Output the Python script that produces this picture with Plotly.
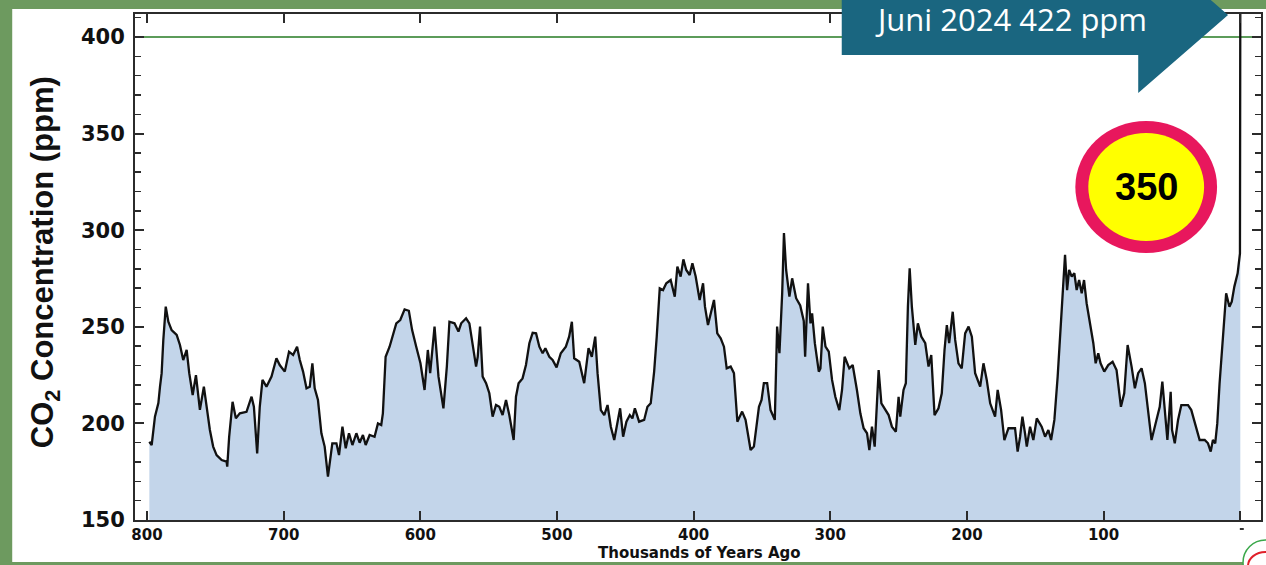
import plotly.graph_objects as go

# ---------------- data (thousands of years ago, ppm) ----------------
ages_kya = [
    798.3, 796.6, 794.2, 791.7, 790.5, 789.3, 788.1, 786.3, 784.4, 782.0, 778.3, 775.9, 773.5, 771.0,
    769.1, 766.6, 764.2, 761.3, 758.4, 756.4, 754.0, 751.6, 749.1, 745.4, 741.8, 741.3, 739.9, 737.4,
    735.0, 732.1, 727.2, 723.5, 721.8, 719.4, 717.5, 715.5, 712.6, 708.9, 705.3, 702.9, 699.2, 696.1,
    693.1, 690.2, 688.2, 685.8, 683.3, 680.9, 679.0, 677.3, 674.9, 672.4, 670.0, 667.6, 664.4, 661.4,
    659.5, 657.0, 654.6, 652.2, 649.7, 646.8, 644.4, 642.0, 640.0, 637.1, 633.5, 631.0, 628.6, 627.4,
    625.4, 622.5, 617.6, 614.7, 611.5, 608.4, 606.0, 603.0, 599.9, 596.9, 594.5, 592.8, 589.6, 586.7,
    583.1, 580.6, 578.7, 575.0, 572.1, 570.1, 566.5, 564.1, 561.7, 559.2, 558.0, 556.3, 554.4, 551.9,
    549.5, 547.1, 544.6, 542.2, 539.8, 537.3, 534.9, 531.7, 530.0, 528.1, 525.2, 522.7, 520.2, 517.8,
    515.3, 512.9, 510.5, 508.5, 505.6, 503.2, 500.3, 497.2, 493.5, 491.1, 489.1, 487.4, 483.7, 480.1,
    476.9, 474.5, 472.0, 470.3, 467.9, 465.4, 463.0, 460.6, 458.1, 455.7, 453.8, 451.6, 449.2, 446.7,
    444.8, 443.0, 439.9, 436.2, 433.8, 431.4, 429.7, 428.9, 427.0, 424.8, 422.4, 420.0, 416.8, 413.8,
    411.9, 409.5, 407.5, 405.4, 402.9, 400.9, 398.5, 395.6, 393.1, 391.7, 389.5, 387.1, 385.1, 382.7,
    380.2, 377.8, 375.8, 372.9, 370.5, 368.0, 364.5, 362.0, 358.3, 355.9, 352.2, 350.3, 348.6, 346.2,
    343.7, 340.6, 338.9, 337.2, 335.2, 333.9, 332.3, 329.9, 327.9, 325.0, 322.0, 319.4, 318.4, 316.3,
    314.5, 313.3, 311.3, 308.4, 307.2, 305.5, 303.5, 301.1, 298.7, 296.3, 293.4, 291.4, 289.5, 286.1,
    283.6, 280.5, 278.0, 275.6, 273.1, 271.4, 269.5, 267.5, 265.8, 264.6, 262.6, 259.7, 257.3, 254.9,
    252.0, 250.0, 248.8, 246.4, 244.7, 243.2, 241.9, 240.3, 237.8, 235.9, 233.4, 230.5, 228.1, 226.1,
    223.7, 220.8, 218.4, 216.4, 214.7, 213.0, 211.5, 210.4, 208.6, 206.2, 203.8, 201.3, 198.8, 196.4,
    194.0, 190.3, 187.9, 185.5, 183.0, 179.4, 177.5, 175.0, 172.6, 169.6, 164.8, 162.9, 161.1, 159.4,
    157.5, 156.2, 153.8, 151.4, 148.9, 145.3, 142.8, 140.4, 138.4, 136.0, 133.6, 131.1, 129.4, 128.2,
    126.7, 125.2, 123.3, 121.4, 119.7, 117.9, 116.0, 114.3, 112.4, 109.9, 107.5, 105.8, 103.9, 102.2,
    99.5, 96.6, 93.4, 90.5, 87.3, 84.9, 82.4, 79.5, 77.1, 74.7, 72.2, 69.8, 64.9, 61.3,
    58.9, 57.0, 55.2, 53.3, 50.9, 49.9, 47.9, 45.5, 43.1, 38.2, 35.8, 33.3, 29.7, 26.0,
    23.6, 21.6, 20.0, 18.3, 16.8, 15.1, 13.5, 12.0, 10.3, 7.9, 6.2, 4.3, 1.9, 0.2,
    -0.07,
]
co2_ppm = [
    190.5, 188.8, 203.5, 210.5, 219.0, 226.0, 243.0, 260.4, 252.6, 248.3, 245.8, 240.6, 232.8, 238.0,
    226.0, 214.7, 225.0, 207.0, 219.0, 208.6, 196.6, 188.0, 183.6, 181.0, 180.2, 177.6, 193.0, 211.2,
    202.6, 205.2, 206.0, 213.8, 208.6, 184.5, 208.6, 222.5, 219.0, 224.2, 233.7, 230.2, 226.8, 237.1,
    235.4, 239.7, 232.8, 226.8, 218.2, 219.0, 231.1, 218.2, 212.1, 194.9, 188.0, 172.4, 189.7, 189.7,
    183.6, 198.3, 187.1, 194.9, 188.8, 194.9, 190.0, 194.0, 188.8, 194.0, 193.1, 200.0, 199.2, 205.2,
    234.5, 239.7, 251.8, 253.5, 259.0, 258.3, 248.3, 239.7, 231.1, 217.3, 238.0, 226.0, 250.1, 224.2,
    207.8, 229.4, 252.6, 251.8, 247.5, 251.8, 254.4, 251.8, 241.5, 229.4, 234.5, 250.1, 224.2, 220.8,
    215.6, 203.5, 209.5, 208.6, 204.3, 212.1, 204.3, 191.4, 213.8, 220.8, 223.3, 230.2, 241.5, 246.9,
    246.6, 239.7, 236.3, 238.9, 234.5, 232.8, 229.0, 236.3, 239.7, 244.9, 252.6, 233.7, 231.9, 220.8,
    238.9, 234.5, 244.9, 226.0, 206.9, 204.3, 209.5, 198.3, 191.4, 201.8, 207.8, 193.1, 200.9, 204.3,
    202.6, 207.8, 200.9, 201.8, 208.6, 210.4, 220.8, 226.8, 244.9, 269.9, 269.0, 272.5, 274.2, 265.6,
    281.1, 276.0, 284.9, 279.4, 276.8, 282.9, 276.0, 263.9, 272.5, 260.4, 250.9, 257.8, 263.9, 246.6,
    244.0, 239.7, 228.5, 229.4, 226.0, 200.9, 206.1, 201.8, 186.2, 188.0, 208.6, 212.1, 220.8, 220.8,
    206.9, 201.8, 250.1, 236.3, 267.3, 298.5, 279.4, 265.6, 275.1, 264.8, 261.0, 253.0, 234.5, 272.5,
    251.8, 257.0, 241.5, 226.8, 228.5, 250.1, 239.7, 237.1, 222.5, 213.8, 206.9, 217.3, 234.5, 228.5,
    230.2, 217.3, 205.2, 197.5, 194.9, 186.2, 198.3, 188.0, 212.1, 227.6, 210.4, 206.9, 204.3, 198.3,
    195.7, 213.8, 203.5, 217.3, 220.8, 260.4, 280.3, 260.4, 240.6, 251.8, 244.9, 241.5, 229.4, 235.4,
    204.3, 207.8, 215.6, 238.0, 250.9, 241.5, 250.1, 257.8, 243.2, 231.1, 228.5, 246.6, 250.1, 244.9,
    226.0, 219.0, 231.1, 222.5, 210.4, 203.5, 217.3, 207.0, 191.4, 197.5, 197.5, 185.4, 193.1, 203.5,
    194.9, 188.0, 198.3, 191.4, 202.6, 198.3, 193.1, 196.6, 191.4, 201.8, 224.2, 251.8, 270.8, 287.2,
    269.0, 279.4, 276.0, 277.7, 269.0, 274.2, 267.3, 274.2, 262.2, 251.8, 241.5, 231.1, 236.3, 231.1,
    226.8, 230.2, 231.9, 227.6, 208.6, 215.6, 240.6, 229.4, 218.2, 226.0, 228.5, 220.8, 191.4, 201.8,
    208.6, 221.6, 205.2, 191.4, 216.4, 196.6, 189.7, 201.8, 209.5, 209.5, 206.9, 200.0, 191.4, 191.4,
    189.7, 185.4, 191.4, 189.7, 200.0, 220.8, 236.3, 250.1, 267.3, 260.4, 263.0, 270.8, 277.7, 288.0,
    422.0,
]

x_tick_values = [800, 700, 600, 500, 400, 300, 200, 100, 0]
x_tick_labels = ["800", "700", "600", "500", "400", "300", "200", "100", " "]
y_tick_values = [150, 200, 250, 300, 350, 400]
reference_level = 400
headline_text = "Juni 2024 422 ppm"
badge_text = "350"
y_title = "CO<sub>2</sub> Concentration (ppm)"
x_title = "Thousands of Years Ago"

# ---------------- layout geometry ----------------
W, H = 1266, 565
ML, MR, MT, MB = 135, 3, 14, 45
PW, PH = W - ML - MR, H - MT - MB


def px(x):
    return (x - ML) / PW


def py(y):
    return (H - MB - y) / PH


GREEN_BG = "#6d9a5f"
AXIS = "#2b2b2b"
TICKFONT = "DejaVu Sans"

fig = go.Figure()
fig.add_trace(go.Scatter(
    x=ages_kya, y=co2_ppm, mode="lines",
    line=dict(color="#111111", width=2.3),
    fill="tozeroy", fillcolor="#c3d5ea",
    hoverinfo="skip", showlegend=False,
))

shapes = []
# white panel over green frame
shapes.append(dict(type="rect", xref="paper", yref="paper",
                   x0=px(12), x1=px(W + 10), y0=py(562), y1=py(9),
                   fillcolor="white", line=dict(width=0), layer="below"))
# 400 ppm reference line
shapes.append(dict(type="line", xref="paper", yref="y", x0=0, x1=1,
                   y0=reference_level, y1=reference_level,
                   line=dict(color="#5c9c5a", width=2.2), layer="below"))
# block arrow
pts = [(843, -40), (1140, -40), (1140, -63), (1230, 15), (1140, 93), (1140, 55), (843, 55)]
path = "M " + " L ".join(f"{px(a):.5f},{py(b):.5f}" for a, b in pts) + " Z"
shapes.append(dict(type="path", xref="paper", yref="paper", path=path,
                   fillcolor="#1a6680", line=dict(width=0), layer="above"))
# badge ring + yellow disk
cx, cy = 1148, 187
shapes.append(dict(type="circle", xref="paper", yref="paper",
                   x0=px(cx - 71), x1=px(cx + 71), y0=py(cy + 66), y1=py(cy - 66),
                   fillcolor="#e8175d", line=dict(width=0), layer="above"))
shapes.append(dict(type="circle", xref="paper", yref="paper",
                   x0=px(cx - 58), x1=px(cx + 58), y0=py(cy + 54), y1=py(cy - 54),
                   fillcolor="#ffff00", line=dict(width=0), layer="above"))
# small icon partly visible at bottom right
shapes.append(dict(type="circle", xref="paper", yref="paper",
                   x0=px(1245), x1=px(1290), y0=py(585), y1=py(540),
                   fillcolor="white", line=dict(color="#3aa84a", width=1.5), layer="above"))
shapes.append(dict(type="circle", xref="paper", yref="paper",
                   x0=px(1250), x1=px(1285), y0=py(580), y1=py(552),
                   fillcolor="rgba(0,0,0,0)", line=dict(color="#e0202a", width=2), layer="above"))
# cut-off zero label dash
shapes.append(dict(type="line", xref="x", yref="paper", x0=0.3, x1=-2.6,
                   y0=py(529), y1=py(529), line=dict(color="#333", width=2), layer="above"))

annotations = [
    dict(text=headline_text, xref="paper", yref="paper", x=px(1013), y=py(19),
         showarrow=False, xanchor="center", yanchor="middle",
         font=dict(family="Open Sans", size=31, color="white")),
    dict(text=badge_text, xref="paper", yref="paper", x=px(cx), y=py(cy),
         showarrow=False, xanchor="center", yanchor="middle",
         font=dict(family="Liberation Sans", size=38, color="black", weight="bold")),
    dict(text=y_title, xref="paper", yref="paper", x=px(45), y=py(262),
         showarrow=False, textangle=-90, xanchor="center", yanchor="middle",
         font=dict(family="Liberation Sans", size=31, color="#111", weight="bold")),
    dict(text=x_title, xref="paper", yref="paper", x=px(701), y=py(553),
         showarrow=False, xanchor="center", yanchor="middle",
         font=dict(family=TICKFONT, size=15, color="#111", weight="bold")),
]

fig.update_layout(
    width=W, height=H,
    margin=dict(l=ML, r=MR, t=MT, b=MB, pad=0),
    paper_bgcolor=GREEN_BG, plot_bgcolor="white",
    shapes=shapes, annotations=annotations, showlegend=False,
    xaxis=dict(range=[808.8, -15.2], tickmode="array", tickvals=x_tick_values,
               ticktext=x_tick_labels, ticks="inside", ticklen=9, tickwidth=2,
               tickcolor=AXIS, showline=True, linecolor=AXIS, linewidth=2,
               mirror="ticks", showgrid=False, zeroline=False,
               tickfont=dict(family=TICKFONT, size=15, color="#111", weight="bold")),
    yaxis=dict(range=[150, 411.9], tickmode="array", tickvals=y_tick_values,
               ticks="inside", ticklen=9, tickwidth=2, tickcolor=AXIS,
               showline=True, linecolor=AXIS, linewidth=2, mirror="ticks",
               showgrid=False, zeroline=False, ticklabelstandoff=4,
               minor=dict(dtick=10, tick0=150, ticks="inside", ticklen=6,
                          tickwidth=1.5, tickcolor=AXIS, showgrid=False),
               tickfont=dict(family=TICKFONT, size=21, color="#111", weight="bold")),
)

fig.write_html(
    "out.html",
    config={"displayModeBar": False, "staticPlot": True},
    post_script="document.body.style.margin='0';document.body.style.padding='0';"
                "document.body.style.overflow='hidden';",
)
